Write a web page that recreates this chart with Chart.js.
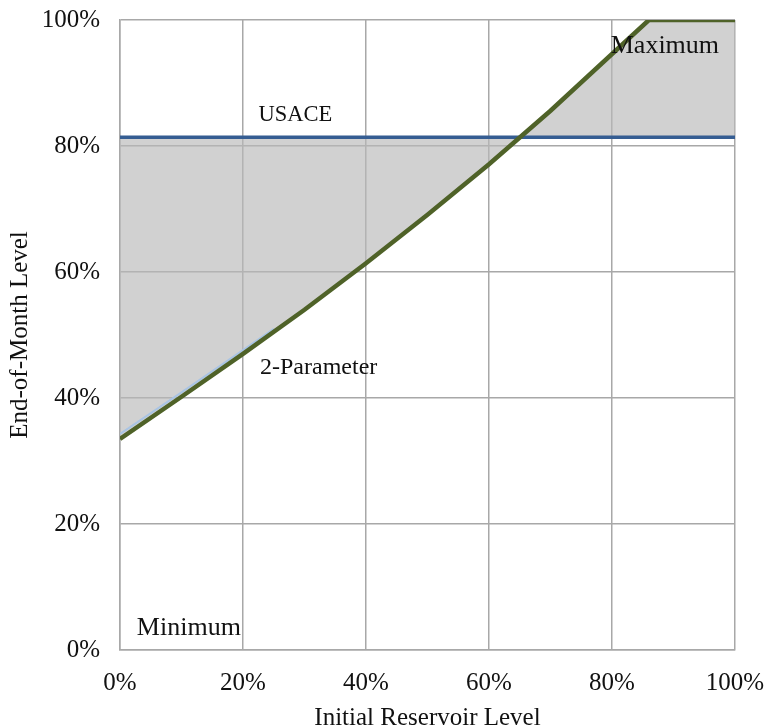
<!DOCTYPE html>
<html>
<head>
<meta charset="utf-8">
<script src="https://cdn.jsdelivr.net/npm/chart.js@4/dist/chart.umd.min.js"></script>
<style>
  html, body { margin: 0; padding: 0; background: #fff; }
  #wrap { width: 767px; height: 728px; }
</style>
</head>
<body>
<div id="wrap"><canvas id="chart" width="767" height="728"></canvas></div>
<script>
'use strict';

// initial reservoir level (%)
const initLevel = [0, 10, 20, 30, 40, 50, 60, 70, 80, 86, 90, 100];
// 2-parameter rule, end-of-month level (%), capped at 100
const twoParam = [33.5, 40.2, 47.0, 54.0, 61.4, 69.1, 77.1, 85.6, 94.6, 100, 100, 100];
// thin light-blue edge visible just above the curve at low levels
const edgeLevel = [0, 10, 20, 25];
const edgeVals = [34.3, 40.9, 47.6, 51.0];
// USACE rule, flat
const usace = [81.4, 81.4, 81.4, 81.4, 81.4, 81.4, 81.4, 81.4, 81.4, 81.4, 81.4, 81.4];
const ticksX = [0, 20, 40, 60, 80, 100];
const ticksY = [0, 20, 40, 60, 80, 100];

// text labels placed in data coordinates
const notes = [
  { text: 'USACE', x: 28.5, y: 84.9 },
  { text: 'Maximum', x: 88.6, y: 95.9 },
  { text: '2-Parameter', x: 32.3, y: 44.8 },
  { text: 'Minimum', x: 11.2, y: 3.5 },
];
const noteSize = { 'USACE': 22.5, 'Maximum': 26, '2-Parameter': 24, 'Minimum': 26 };

const SERIF = '"Liberation Serif", "Times New Roman", serif';
const GRID = '#a8a8a8';

const pts = (xs, ys) => xs.map((x, i) => ({ x, y: ys[i] }));

const notePlugin = {
  id: 'notes',
  afterDatasetsDraw(chart) {
    const { ctx, scales } = chart;
    ctx.save();
    ctx.fillStyle = '#111';
    ctx.textAlign = 'center';
    ctx.textBaseline = 'middle';
    notes.forEach((n) => {
      ctx.font = noteSize[n.text] + 'px ' + SERIF;
      ctx.fillText(n.text, scales.x.getPixelForValue(n.x), scales.y.getPixelForValue(n.y));
    });
    ctx.restore();
  },
};

const axisBase = (title) => ({
  type: 'linear',
  min: 0,
  max: 100,
  grid: { color: GRID, lineWidth: 1.5, drawTicks: false },
  border: { color: GRID, width: 1.5 },
  ticks: { font: { family: SERIF, size: 25 }, color: '#111', padding: 20, callback: (v) => v + '%' },
  title: { display: true, text: title, color: '#111', font: { family: SERIF, size: 25 } },
});

const xAxis = axisBase('Initial Reservoir Level');
xAxis.afterBuildTicks = (s) => { s.ticks = ticksX.map((v) => ({ value: v })); };
xAxis.afterFit = (s) => { s.height = 78; s.paddingLeft = 0; s.paddingRight = 0; };
xAxis.ticks.padding = 18;
xAxis.title.font.lineHeight = 0.75;
xAxis.title.padding = 0;

const yAxis = axisBase('End-of-Month Level');
yAxis.afterBuildTicks = (s) => { s.ticks = ticksY.map((v) => ({ value: v })); };
yAxis.afterFit = (s) => { s.width = 120; s.paddingTop = 0; s.paddingBottom = 0; };
yAxis.title.padding = { top: 5, bottom: 0 };

new Chart(document.getElementById('chart'), {
  type: 'line',
  data: {
    datasets: [
      { label: '2-Parameter', data: pts(initLevel, twoParam), borderColor: '#4f6228', borderWidth: 4.5, pointRadius: 0, tension: 0, fill: { target: 2 }, backgroundColor: 'rgba(185,185,185,0.66)' },
      { label: 'edge', data: pts(edgeLevel, edgeVals), borderColor: '#a9c4e4', borderWidth: 2, pointRadius: 0, fill: false },
      { label: 'USACE', data: pts(initLevel, usace), borderColor: '#355d92', borderWidth: 3.5, pointRadius: 0, fill: false },
    ],
  },
  options: {
    responsive: false,
    animation: false,
    layout: { padding: { top: 20, right: 32, left: 0, bottom: 0 } },
    plugins: { legend: { display: false }, tooltip: { enabled: false }, filler: { drawTime: 'beforeDatasetsDraw' } },
    scales: { x: xAxis, y: yAxis },
  },
  plugins: [notePlugin],
});
</script>
</body>
</html>
